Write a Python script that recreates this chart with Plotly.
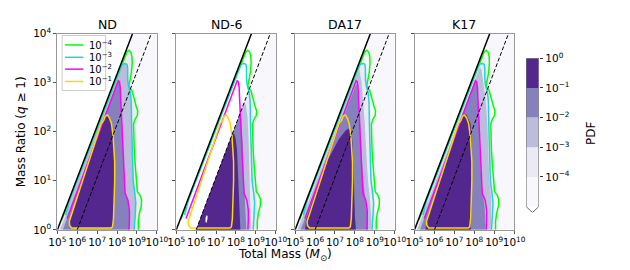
import plotly.graph_objects as go

# ---------------- data (all values are log10) ----------------
panel_names = ["ND", "ND-6", "DA17", "K17"]
x_tick_exp = [5, 6, 7, 8, 9, 10]
y_tick_exp = [0, 1, 2, 3, 4]
pdf_levels_exp = [-5, -4, -3, -2, -1, 0]
pdf_colors = ["#f8f7fb", "#ebe9f3", "#bcbddc", "#8581bc", "#54278f"]
contour_labels = ["10<sup>−4</sup>", "10<sup>−3</sup>", "10<sup>−2</sup>", "10<sup>−1</sup>"]
contour_colors = ["#00ff00", "#22d3d9", "#ff00ff", "#ffd700"]

solid_M = [5.0, 8.78]
solid_q = [0.0, 4.0]
dashed_M = [6.0, 9.72]
dashed_q = [0.0, 4.0]

# ND reference contour lines (drawn in every panel)
c4_M = [5.22, 8.39, 8.50, 8.60, 8.70, 8.75, 8.76, 8.72, 8.66, 8.60, 8.62, 8.75, 8.96, 9.04, 9.02,
        8.91, 8.83, 8.83, 8.86, 8.91, 8.96, 9.02, 9.15, 9.23, 9.22, 9.12, 9.07, 9.07]
c4_q = [0.20, 3.55, 3.63, 3.66, 3.62, 3.52, 3.40, 3.20, 3.05, 2.95, 2.90, 2.84, 2.52, 2.42, 2.33,
        2.26, 2.16, 1.91, 1.65, 1.33, 1.00, 0.78, 0.71, 0.62, 0.49, 0.33, 0.17, 0.00]
c3_M = [5.42, 5.62, 8.19, 8.30, 8.43, 8.50, 8.53, 8.53, 8.57, 8.66, 8.71, 8.73, 8.73, 8.75, 8.78, 8.81,
        8.89, 8.94, 8.91, 8.86]
c3_q = [0.30, 0.62, 3.33, 3.38, 3.39, 3.37, 3.29, 3.07, 2.94, 2.81, 2.62, 2.42, 2.16, 1.84, 1.39, 1.00,
        0.75, 0.55, 0.30, 0.00]
c2_M = [5.49, 8.00, 8.06, 8.12, 8.16, 8.18, 8.20, 8.23, 8.26, 8.30, 8.33, 8.40, 8.55, 8.62, 8.62, 8.60]
c2_q = [0.23, 2.98, 3.04, 3.02, 2.90, 2.70, 2.50, 2.20, 1.90, 1.50, 1.10, 0.75, 0.60, 0.40, 0.20, 0.00]
c1_M = [7.41, 7.52, 7.62, 7.72, 7.80, 7.85, 7.88, 7.88, 7.85, 7.82, 7.77, 7.70, 5.72, 5.62, 5.60,
        7.20, 7.33, 7.41]
c1_q = [2.32, 2.34, 2.28, 2.16, 1.91, 1.65, 1.39, 1.00, 0.55, 0.23, 0.06, 0.04, 0.04, 0.09, 0.17,
        2.16, 2.23, 2.32]

# filled PDF regions per panel: background (<1e-4), >=1e-4, >=1e-3, >=1e-2, >=1e-1
bg_M = [5.0, 8.78, 10.0, 10.0]
bg_q = [0.0, 4.0, 4.0, 0.0]
bg6_M = [6.0, 9.72, 10.0, 10.0]
bg6_q = [0.0, 4.0, 4.0, 0.0]

nd_f4_M = [5.06] + c4_M
nd_f4_q = [0.0] + c4_q
nd_f3_M = [5.13] + c3_M
nd_f3_q = [0.0] + c3_q
nd_f2_M = [5.28] + c2_M
nd_f2_q = [0.0] + c2_q
nd_f1_M = c1_M
nd_f1_q = c1_q

nd6_f4_M = [6.00, 8.70, 8.76, 8.80, 8.85, 8.85, 8.88, 8.95, 9.05, 9.10, 9.05, 9.03]
nd6_f4_q = [0.00, 2.90, 2.80, 2.50, 2.20, 1.80, 1.40, 0.90, 0.60, 0.40, 0.10, 0.00]
nd6_f3_M = [6.00, 8.42, 8.50, 8.58, 8.63, 8.66, 8.70, 8.74, 8.75]
nd6_f3_q = [0.00, 2.60, 2.55, 2.30, 1.90, 1.40, 0.90, 0.40, 0.00]
nd6_f2_M = [6.00, 8.19, 8.26, 8.30, 8.33, 8.36, 8.40, 8.45, 8.50, 8.52]
nd6_f2_q = [0.00, 2.35, 2.28, 2.10, 1.80, 1.40, 1.00, 0.60, 0.20, 0.00]
nd6_f1_M = [6.00, 7.83, 7.92, 7.98, 8.05, 8.09, 8.14, 8.20, 8.22]
nd6_f1_q = [0.00, 1.97, 1.95, 1.87, 1.65, 1.20, 0.75, 0.36, 0.00]
nd6_hole_M = [6.47, 6.52, 6.57, 6.57, 6.52, 6.47]
nd6_hole_q = [0.16, 0.14, 0.22, 0.29, 0.30, 0.24]

da_f4_M = [5.09, 8.36, 8.45, 8.55, 8.66, 8.79, 8.83, 8.86, 8.96, 9.02, 9.02]
da_f4_q = [0.00, 3.47, 3.48, 3.32, 2.94, 2.42, 1.84, 1.20, 0.75, 0.36, 0.00]
da_f3_M = [5.13, 8.16, 8.22, 8.34, 8.42, 8.50, 8.58, 8.66, 8.76, 8.83, 8.83]
da_f3_q = [0.00, 3.22, 3.29, 3.00, 2.62, 2.16, 1.52, 1.00, 0.62, 0.23, 0.00]
da_f2_M = [5.28, 8.00, 8.06, 8.12, 8.18, 8.26, 8.34, 8.42, 8.53, 8.66, 8.66]
da_f2_q = [0.00, 2.92, 2.97, 2.93, 2.62, 2.16, 1.52, 1.00, 0.62, 0.23, 0.00]
da_f1_M = [5.50, 5.55, 6.00, 6.60, 7.20, 7.55, 7.72, 7.82, 7.88, 7.92, 7.96, 8.01, 8.05]
da_f1_q = [0.00, 0.20, 0.75, 1.40, 1.85, 2.03, 2.07, 2.02, 1.78, 1.20, 0.62, 0.23, 0.00]

k_f4_M = [5.09, 8.42, 8.50, 8.58, 8.63, 8.75, 8.83, 8.86, 8.96, 9.10, 9.07, 9.02, 9.02]
k_f4_q = [0.00, 3.52, 3.55, 3.45, 3.13, 2.68, 2.16, 1.52, 1.13, 0.95, 0.62, 0.23, 0.00]
k_f3_M = [5.13, 8.20, 8.28, 8.37, 8.47, 8.58, 8.66, 8.71, 8.76, 8.86, 8.86, 8.83]
k_f3_q = [0.00, 3.27, 3.32, 3.26, 2.94, 2.62, 2.16, 1.52, 1.00, 0.62, 0.23, 0.00]
k_f2_M = [5.28, 5.49, 8.00, 8.07, 8.14, 8.17, 8.20, 8.24, 8.28, 8.32, 8.38, 8.50, 8.55, 8.56]
k_f2_q = [0.00, 0.23, 2.98, 3.05, 3.00, 2.80, 2.50, 2.10, 1.60, 1.10, 0.80, 0.55, 0.30, 0.00]
k_f1_M = [5.55, 5.60, 7.30, 7.50, 7.61, 7.72, 7.82, 7.88, 7.88, 7.85, 7.82]
k_f1_q = [0.00, 0.20, 2.20, 2.37, 2.35, 2.25, 2.16, 1.52, 0.88, 0.23, 0.00]

# ---------------- assembly ----------------
panel_fills = [
    [(bg_M, bg_q), (nd_f4_M, nd_f4_q), (nd_f3_M, nd_f3_q), (nd_f2_M, nd_f2_q), (nd_f1_M, nd_f1_q)],
    [(bg6_M, bg6_q), (nd6_f4_M, nd6_f4_q), (nd6_f3_M, nd6_f3_q), (nd6_f2_M, nd6_f2_q), (nd6_f1_M, nd6_f1_q)],
    [(bg_M, bg_q), (da_f4_M, da_f4_q), (da_f3_M, da_f3_q), (da_f2_M, da_f2_q), (da_f1_M, da_f1_q)],
    [(bg_M, bg_q), (k_f4_M, k_f4_q), (k_f3_M, k_f3_q), (k_f2_M, k_f2_q), (k_f1_M, k_f1_q)],
]
contours = [(c4_M, c4_q), (c3_M, c3_q), (c2_M, c2_q), (c1_M, c1_q)]

W, H = 630, 270
FONT = "DejaVu Sans"
def px(x):
    return x / W
def py(y):
    return 1 - y / H

panel_left = [50, 173, 296, 419.5]
panel_w = 103
y_dom = [py(234), py(27)]

fig = go.Figure()

def lin(v):
    return [10 ** a for a in v]

for i in range(4):
    sfx = "" if i == 0 else str(i + 1)
    xa, ya = "x" + sfx, "y" + sfx
    for (M, q), col in zip(panel_fills[i], pdf_colors):
        fig.add_trace(go.Scatter(x=lin(M), y=lin(q), mode="lines", fill="toself", fillcolor=col,
                                 line=dict(width=0), xaxis=xa, yaxis=ya, showlegend=False,
                                 hoverinfo="skip"))
    if i == 1:
        fig.add_trace(go.Scatter(x=lin(nd6_hole_M), y=lin(nd6_hole_q), mode="lines", fill="toself",
                                 fillcolor="white", line=dict(width=0), xaxis=xa, yaxis=ya,
                                 showlegend=False, hoverinfo="skip"))
    for (M, q), col in zip(contours, contour_colors):
        fig.add_trace(go.Scatter(x=lin(M), y=lin(q), mode="lines", line=dict(color=col, width=1.5),
                                 xaxis=xa, yaxis=ya, showlegend=False, hoverinfo="skip"))
    fig.add_trace(go.Scatter(x=lin(solid_M), y=lin(solid_q), mode="lines",
                             line=dict(color="black", width=1.5), xaxis=xa, yaxis=ya,
                             showlegend=False, hoverinfo="skip"))
    fig.add_trace(go.Scatter(x=lin(dashed_M), y=lin(dashed_q), mode="lines",
                             line=dict(color="black", width=1, dash="4px,2px"), xaxis=xa, yaxis=ya,
                             showlegend=False, hoverinfo="skip"))

    l = panel_left[i]
    fig.update_layout(**{
        "xaxis" + sfx: dict(type="log", range=[5, 10], domain=[px(l), px(l + panel_w)], anchor=ya,
                            tickvals=[10 ** e for e in x_tick_exp],
                            ticktext=["10<sup>%d</sup>" % e for e in x_tick_exp],
                            ticks="outside", ticklen=3, tickcolor="#555", showline=True, mirror=True,
                            linecolor="#999", linewidth=1, showgrid=False, zeroline=False,
                            tickangle=0, tickfont=dict(size=10.5, color="black", family=FONT)),
        "yaxis" + sfx: dict(type="log", range=[0, 4], domain=y_dom, anchor=xa,
                            tickvals=[10 ** e for e in y_tick_exp],
                            ticktext=["10<sup>%d</sup>" % e for e in y_tick_exp],
                            showticklabels=(i == 0),
                            ticks="outside", ticklen=3, tickcolor="#555", showline=True, mirror=True,
                            linecolor="#999", linewidth=1, showgrid=False, zeroline=False,
                            tickfont=dict(size=10.5, color="black", family=FONT)),
    })
    fig.add_annotation(x=px(l + panel_w / 2), y=py(17), xref="paper", yref="paper", text=panel_names[i],
                       showarrow=False, font=dict(size=12.5, color="black", family=FONT),
                       xanchor="center", yanchor="middle")

# ---------------- colorbar (axis 5) ----------------
for k, col in enumerate(pdf_colors):
    lo, hi = pdf_levels_exp[k], pdf_levels_exp[k + 1]
    fig.add_trace(go.Scatter(x=[0, 1, 1, 0], y=[lo, lo, hi, hi], mode="lines", fill="toself",
                             fillcolor=col, line=dict(width=0), xaxis="x5", yaxis="y5",
                             showlegend=False, hoverinfo="skip"))
lo0 = pdf_levels_exp[0]
fig.add_trace(go.Scatter(x=[0, 1, 0.5, 0], y=[lo0, lo0, lo0 - 0.2, lo0], mode="lines", fill="toself",
                         fillcolor="white", line=dict(width=0), xaxis="x5", yaxis="y5",
                         showlegend=False, hoverinfo="skip"))
top = pdf_levels_exp[-1]
fig.add_trace(go.Scatter(x=[0, 1, 1, 0.5, 0, 0], y=[top, top, lo0, lo0 - 0.2, lo0, top], mode="lines",
                         line=dict(color="#444", width=0.8), xaxis="x5", yaxis="y5",
                         showlegend=False, hoverinfo="skip"))
fig.update_layout(
    xaxis5=dict(domain=[px(535), px(548)], range=[0, 1], visible=False, anchor="y5", fixedrange=True),
    yaxis5=dict(domain=[py(215.7), py(53)], range=[-5.2, 0], anchor="x5", side="right",
                tickvals=pdf_levels_exp[1:],
                ticktext=["10<sup>%d</sup>" % e if e == 0 else "10<sup>−%d</sup>" % (-e)
                          for e in pdf_levels_exp[1:]],
                ticks="outside", ticklen=3.5, tickcolor="#333", showline=False, showgrid=False,
                zeroline=False, tickfont=dict(size=10.5, color="black", family=FONT)),
)

# ---------------- legend (manual, upper-left of first panel) ----------------
fig.add_shape(type="rect", xref="paper", yref="paper", x0=px(55), x1=px(100), y0=py(87), y1=py(29),
              fillcolor="rgba(255,255,255,0.8)", line=dict(color="#cccccc", width=1))
leg_y = [39, 52, 64.5, 77.5]
for k in range(4):
    fig.add_shape(type="line", xref="paper", yref="paper", x0=px(58), x1=px(77), y0=py(leg_y[k]),
                  y1=py(leg_y[k]), line=dict(color=contour_colors[k], width=1.5))
    fig.add_annotation(x=px(81), y=py(leg_y[k]), xref="paper", yref="paper", text=contour_labels[k],
                       showarrow=False, xanchor="left", yanchor="middle",
                       font=dict(size=10, color="black", family=FONT))

# ---------------- axis titles ----------------
fig.add_annotation(x=px(12), y=py(130.5), xref="paper", yref="paper",
                   text="Mass Ratio (<i>q</i> ≥ 1)", textangle=-90, showarrow=False,
                   font=dict(size=12, color="black", family=FONT), xanchor="center", yanchor="middle")
fig.add_annotation(x=px(285), y=py(260), xref="paper", yref="paper",
                   text="Total Mass (<i>M</i><sub>⊙</sub>)", showarrow=False,
                   font=dict(size=12, color="black", family=FONT), xanchor="center", yanchor="middle")
fig.add_annotation(x=px(602), y=py(132), xref="paper", yref="paper", text="PDF", textangle=-90,
                   showarrow=False, font=dict(size=12, color="black", family=FONT),
                   xanchor="center", yanchor="middle")

fig.update_layout(width=W, height=H, margin=dict(l=0, r=0, t=0, b=0),
                  paper_bgcolor="white", plot_bgcolor="white", showlegend=False,
                  font=dict(family=FONT, color="black"))

fig.write_html("out.html", config={"displayModeBar": False},
               post_script="document.body.style.margin='0px';document.body.style.padding='0px';")
